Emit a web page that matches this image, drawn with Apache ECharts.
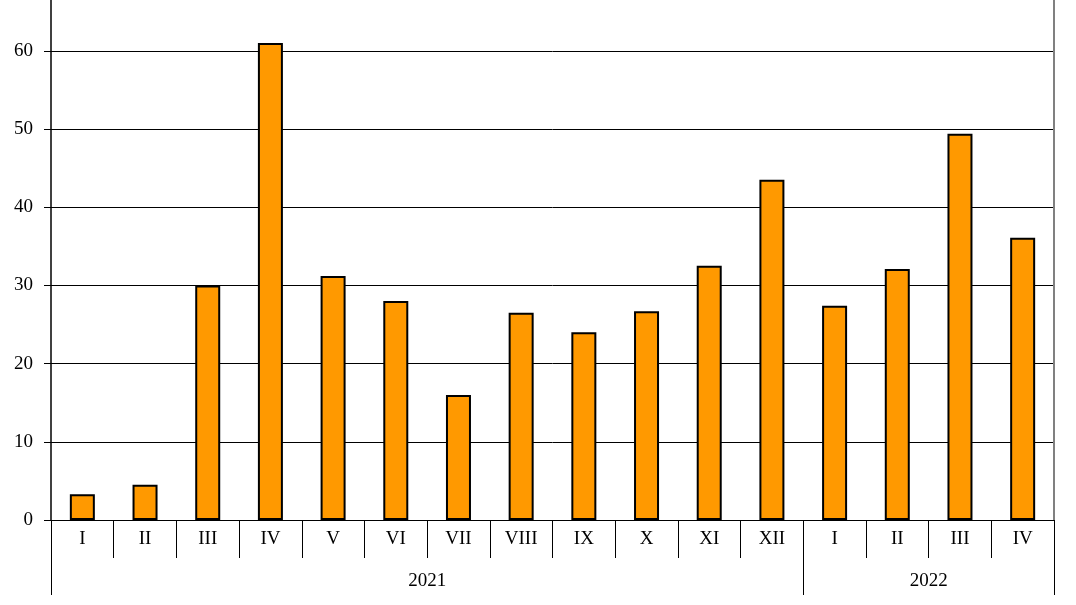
<!DOCTYPE html>
<html><head><meta charset="utf-8">
<script src="https://cdn.jsdelivr.net/npm/echarts@6/dist/echarts.min.js"></script>
<style>html,body{margin:0;padding:0;background:#fff}#c{width:1076px;height:605px}</style>
</head><body><div id="c"></div>
<script>
const months = ['I','II','III','IV','V','VI','VII','VIII','IX','X','XI','XII','I','II','III','IV'];
const values = [3.3, 4.5, 30.0, 61.0, 31.2, 28.0, 16.0, 26.5, 24.0, 26.7, 32.5, 43.5, 27.4, 32.1, 49.4, 36.1];
const years = ['2021', '2022'];
const yearCenters = [6, 14];
const yearBounds = [0, 12, 16];
const yTicks = [0, 10, 20, 30, 40, 50, 60];

const font = {fontFamily: 'Liberation Serif', fontSize: 19, color: '#000'};
const chart = echarts.init(document.getElementById('c'));
chart.setOption({
  animation: false,
  grid: {left: 51, right: 22, top: 0, bottom: 85, containLabel: false},
  xAxis: [{
    type: 'category', data: months, position: 'bottom', boundaryGap: true,
    axisLine: {show: true, lineStyle: {color: '#000', width: 1}},
    axisTick: {show: true, length: 38, lineStyle: {color: '#000', width: 1}},
    axisLabel: Object.assign({margin: 10, interval: 0}, font),
    splitLine: {show: false}
  }, {
    type: 'value', min: 0, max: 16, position: 'bottom',
    axisLine: {show: false},
    axisTick: {show: true, length: 75, customValues: yearBounds, lineStyle: {color: '#000', width: 1}},
    axisLabel: Object.assign({margin: 52, customValues: yearCenters,
      formatter: v => years[yearCenters.indexOf(v)] || ''}, font),
    splitLine: {show: false}
  }],
  yAxis: [{
    type: 'value', min: 0, max: 66.5, interval: 10, position: 'left',
    axisLine: {show: true, lineStyle: {color: '#000', width: 1.5}},
    axisTick: {show: true, length: 7, customValues: yTicks, lineStyle: {color: '#000', width: 1}},
    axisLabel: Object.assign({margin: 18, customValues: yTicks}, font),
    splitLine: {show: true, lineStyle: {color: '#000', width: 1}}
  }, {
    type: 'value', min: 0, max: 66.5, interval: 10, position: 'right',
    axisLine: {show: true, lineStyle: {color: '#808080', width: 2}},
    axisTick: {show: false}, axisLabel: {show: false}, splitLine: {show: false}
  }],
  series: [{
    type: 'bar', data: values, xAxisIndex: 0, yAxisIndex: 0, barWidth: 25,
    itemStyle: {color: '#FF9900', borderColor: '#000', borderWidth: 2}
  }]
});
</script></body></html>
